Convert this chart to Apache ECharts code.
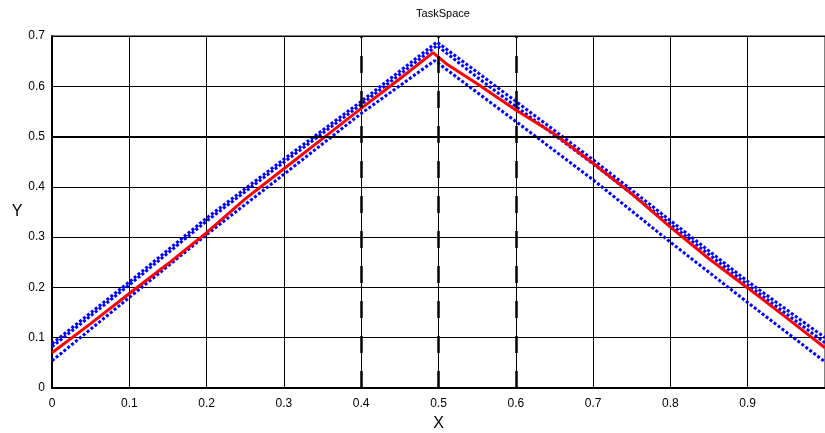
<!DOCTYPE html>
<html>
<head>
<meta charset="utf-8">
<title>TaskSpace</title>
<script src="https://cdn.jsdelivr.net/npm/echarts@6/dist/echarts.min.js"></script>
<style>
  html, body { margin: 0; padding: 0; background: #fff; }
  #main { width: 825px; height: 433px; }
</style>
</head>
<body>
<div id="main"></div>
<script>
// axis ticks
var xTicks = [0, 0.1, 0.2, 0.3, 0.4, 0.5, 0.6, 0.7, 0.8, 0.9, 1];
var yTicks = [0, 0.1, 0.2, 0.3, 0.4, 0.5, 0.6, 0.7];

// red trajectory
var redX = [0, 0.05, 0.1, 0.15, 0.2, 0.25, 0.3, 0.35, 0.4, 0.45, 0.493, 0.51, 0.55, 0.6, 0.65, 0.7, 0.75, 0.8, 0.85, 0.9, 0.95, 1];
var redY = [0.070, 0.128, 0.188, 0.247, 0.309, 0.376, 0.436, 0.496, 0.556, 0.615, 0.667, 0.645, 0.605, 0.553, 0.505, 0.447, 0.386, 0.320, 0.257, 0.199, 0.140, 0.080];

// blue dotted bounds
var upperX = [0, 0.1, 0.2, 0.3, 0.4, 0.498, 0.55, 0.6, 0.7, 0.8, 0.9, 1];
var upperY = [0.088, 0.211, 0.338, 0.455, 0.570, 0.688, 0.628, 0.570, 0.454, 0.333, 0.212, 0.100];
var upper2Y = [0.082, 0.205, 0.332, 0.449, 0.564, 0.681, 0.618, 0.560, 0.446, 0.326, 0.205, 0.090];
var lowerX = [0, 0.1, 0.2, 0.3, 0.4, 0.495, 0.6, 0.7, 0.8, 0.9, 1];
var lowerY = [0.054, 0.180, 0.305, 0.425, 0.546, 0.651, 0.530, 0.414, 0.290, 0.170, 0.052];

// emphasised grid lines
var dashedX = [0.4, 0.5, 0.6];
var boldY = [0.5];

function pairs(xs, ys) {
  return xs.map(function (x, i) { return [x, ys[i]]; });
}

var chart = echarts.init(document.getElementById('main'));
var font = 'Liberation Sans, Arial, sans-serif';

var markData = dashedX.map(function (v) {
  return { xAxis: v, lineStyle: { type: [17, 18], width: 2.5, color: '#000' } };
}).concat(boldY.map(function (v) {
  return { yAxis: v, lineStyle: { type: 'solid', width: 2, color: '#000' } };
}));

var dotted = { color: '#0000ff', width: 3, type: [3, 2] };

chart.setOption({
  animation: false,
  backgroundColor: '#fff',
  title: {
    text: 'TaskSpace',
    left: 438, top: 3, textAlign: 'center',
    textStyle: { fontFamily: font, fontSize: 11, fontWeight: 'normal', color: '#000' }
  },
  grid: {
    left: 52, right: 0, top: 36, bottom: 45,
    containLabel: false, outerBoundsMode: 'none',
    show: true, borderColor: '#000', borderWidth: 1
  },
  xAxis: {
    type: 'value', min: 0, max: 1, interval: 0.1,
    name: 'X', nameLocation: 'middle', nameGap: 28,
    nameTextStyle: { fontFamily: font, fontSize: 16, color: '#000' },
    axisLine: { show: true, onZero: false, lineStyle: { color: '#000', width: 2 } },
    axisTick: { show: true, inside: true, length: 4, lineStyle: { color: '#000' } },
    axisLabel: {
      fontFamily: font, fontSize: 12, color: '#000', margin: 10,
      formatter: function (v) { return v >= 1 ? '' : String(+v.toFixed(1)); }
    },
    splitLine: { show: true, lineStyle: { color: '#000', width: 1 } }
  },
  yAxis: {
    type: 'value', min: 0, max: 0.7, interval: 0.1,
    name: 'Y', nameLocation: 'middle', nameGap: 29, nameRotate: 0,
    nameTextStyle: { fontFamily: font, fontSize: 16, color: '#000' },
    axisLine: { show: true, onZero: false, lineStyle: { color: '#000', width: 2 } },
    axisTick: { show: true, inside: true, length: 4, lineStyle: { color: '#000' } },
    axisLabel: {
      fontFamily: font, fontSize: 12, color: '#000', margin: 7,
      formatter: function (v) { return String(+v.toFixed(1)); }
    },
    splitLine: { show: true, lineStyle: { color: '#000', width: 1 } }
  },
  series: [
    {
      type: 'line', data: [], silent: true,
      markLine: { silent: true, symbol: 'none', label: { show: false }, data: markData }
    },
    { type: 'line', data: pairs(upperX, upperY), showSymbol: false, lineStyle: dotted, z: 3 },
    { type: 'line', data: pairs(upperX, upper2Y), showSymbol: false, lineStyle: dotted, z: 3 },
    { type: 'line', data: pairs(lowerX, lowerY), showSymbol: false, lineStyle: dotted, z: 3 },
    { type: 'line', data: pairs(redX, redY), showSymbol: false, lineStyle: { color: '#ff0000', width: 3 }, z: 4 }
  ]
});
</script>
</body>
</html>
